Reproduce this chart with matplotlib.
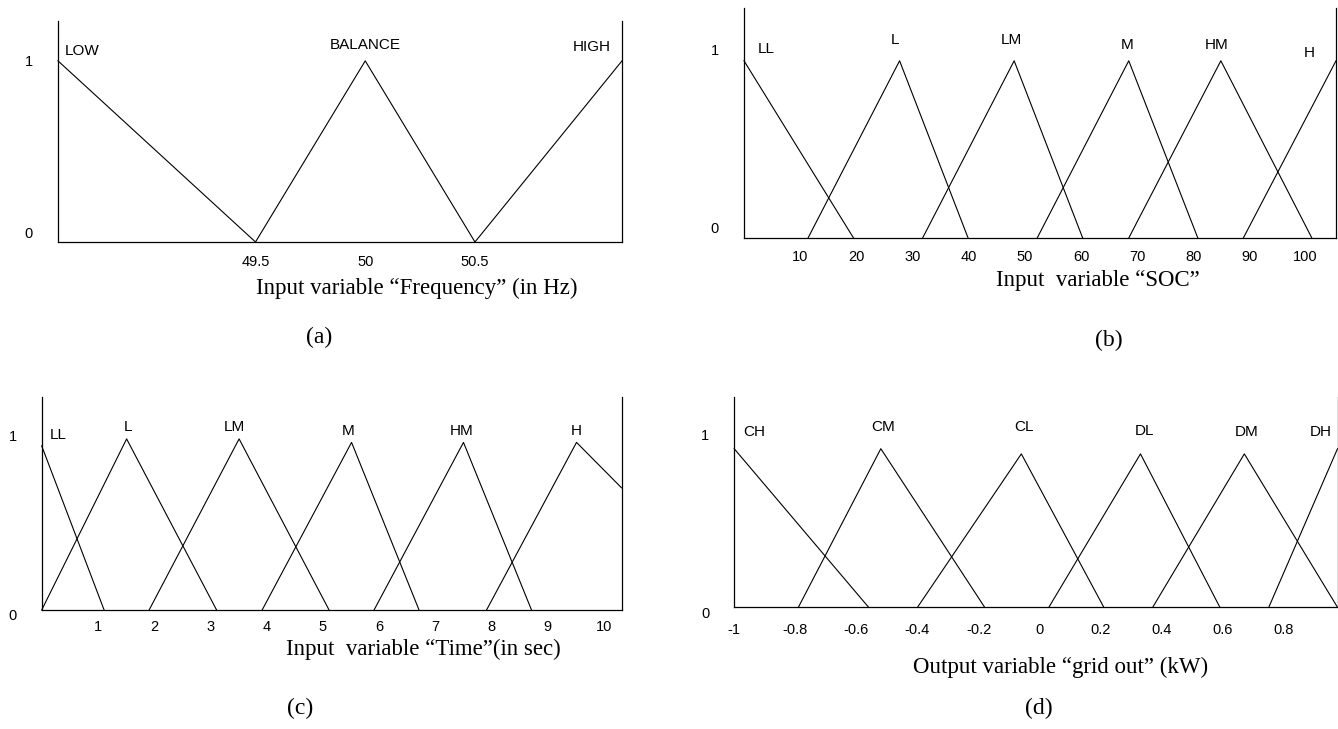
import matplotlib.pyplot as plt
from matplotlib.transforms import ScaledTranslation

plt.rcParams['font.family'] = ['Liberation Sans', 'DejaVu Sans']

# (a) frequency input, Hz
freq_names = ["LOW", "BALANCE", "HIGH"]
freq_x = [[48.6, 49.5], [49.5, 50.0, 50.5], [50.5, 51.17]]
freq_mu = [[1, 0], [0, 1, 0], [0, 1]]
freq_ticks = [49.5, 50, 50.5]
freq_ticklabels = ["49.5", "50", "50.5"]

# (b) state of charge input, %
soc_names = ["LL", "L", "LM", "M", "HM", "H"]
soc_x = [[0, 19.5], [11.4, 27.7, 39.9], [31.8, 48.1, 60.3],
         [52.2, 68.5, 80.8], [68.5, 84.9, 101.1], [88.9, 105.4]]
soc_mu = [[0.94, 0], [0, 0.94, 0], [0, 0.94, 0],
          [0, 0.94, 0], [0, 0.94, 0], [0, 0.94]]
soc_ticks = [10, 20, 30, 40, 50, 60, 70, 80, 90, 100]
soc_ticklabels = [str(t) for t in soc_ticks]

# (c) time input, sec
time_names = ["LL", "L", "LM", "M", "HM", "H"]
time_x = [[0, 1.11], [0, 1.51, 3.11], [1.91, 3.51, 5.11],
          [3.92, 5.51, 6.71], [5.91, 7.50, 8.71], [7.91, 9.51, 10.31]]
time_mu = [[0.94, 0], [0, 0.98, 0], [0, 0.98, 0],
           [0, 0.96, 0], [0, 0.96, 0], [0, 0.96, 0.70]]
time_ticks = [1, 2, 3, 4, 5, 6, 7, 8, 9, 10]
time_ticklabels = [str(t) for t in time_ticks]

# (d) grid output, kW
grid_names = ["CH", "CM", "CL", "DL", "DM", "DH"]
grid_x = [[-1, -0.56], [-0.79, -0.52, -0.18], [-0.40, -0.06, 0.21],
          [0.03, 0.33, 0.59], [0.37, 0.67, 0.975], [0.75, 0.975]]
grid_mu = [[0.92, 0], [0, 0.92, 0], [0, 0.89, 0],
           [0, 0.89, 0], [0, 0.89, 0], [0, 0.92]]
grid_ticks = [-1, -0.8, -0.6, -0.4, -0.2, 0, 0.2, 0.4, 0.6, 0.8]
grid_ticklabels = ["-1", "-0.8", "-0.6", "-0.4", "-0.2", "0", "0.2", "0.4", "0.6", "0.8"]

W, H = 1338, 729


def px_rect(left, right, top, bottom):
    return [left / W, 1 - bottom / H, (right - left) / W, (bottom - top) / H]


panels = [
    dict(names=freq_names, xs=freq_x, mus=freq_mu, ticks=freq_ticks, ticklabels=freq_ticklabels,
         rect=px_rect(58, 622, 21, 242), xlim=(48.6, 51.17),
         name_xy=[(48.71, 1.055), (50.0, 1.09), (51.03, 1.076)],
         xlabel="Input variable \u201cFrequency\u201d (in Hz)", xlabel_xy=(0.636, -0.211),
         letter="(a)", letter_px=(319, 337), xpad=9.2, ydy=(-9.7, 0)),
    dict(names=soc_names, xs=soc_x, mus=soc_mu, ticks=soc_ticks, ticklabels=soc_ticklabels,
         rect=px_rect(744, 1336, 8, 238), xlim=(0, 105.4),
         name_xy=[(4.0, 1.0), (26.8, 1.048), (47.6, 1.048), (68.3, 1.023), (84.1, 1.023), (100.6, 0.979)],
         xlabel="Input  variable \u201cSOC\u201d", xlabel_xy=(0.598, -0.186),
         letter="(b)", letter_px=(1109, 340), xpad=8.5, ydy=(-10, 0)),
    dict(names=time_names, xs=time_x, mus=time_mu, ticks=time_ticks, ticklabels=time_ticklabels,
         rect=px_rect(41.7, 621.5, 397, 610), xlim=(0, 10.31),
         name_xy=[(0.30, 1.002), (1.54, 1.048), (3.42, 1.048), (5.44, 1.025), (7.47, 1.025), (9.51, 1.025)],
         xlabel="Input  variable \u201cTime\u201d(in sec)", xlabel_xy=(0.658, -0.183),
         letter="(c)", letter_px=(300, 708), xpad=7.1, ydy=(5, 0)),
    dict(names=grid_names, xs=grid_x, mus=grid_mu, ticks=grid_ticks, ticklabels=grid_ticklabels,
         rect=px_rect(734.2, 1337.5, 397, 607.3), xlim=(-1, 0.975),
         name_xy=[(-0.933, 1.019), (-0.514, 1.046), (-0.05, 1.046), (0.343, 1.023), (0.679, 1.019), (0.92, 1.019)],
         xlabel="Output variable \u201cgrid out\u201d (kW)", xlabel_xy=(0.541, -0.284),
         letter="(d)", letter_px=(1039, 708), xpad=11, ydy=(5, 0)),
]

fig = plt.figure(figsize=(W / 100, H / 100), dpi=100)

for p in panels:
    ax = fig.add_axes(p["rect"])
    for xs, mus in zip(p["xs"], p["mus"]):
        ax.plot(xs, mus, color="black", lw=0.8, clip_on=False)
    for name, (tx, ty) in zip(p["names"], p["name_xy"]):
        ax.text(tx, ty, name, ha="center", va="center", fontsize=11)

    ax.set_xlim(*p["xlim"])
    ax.set_ylim(0, 1.22)
    ax.spines["top"].set_visible(False)
    for s in ["left", "right", "bottom"]:
        ax.spines[s].set_linewidth(0.9)

    ax.set_xticks(p["ticks"])
    ax.set_xticklabels(p["ticklabels"])
    ax.set_yticks([0, 1])
    ax.set_yticklabels(["0", "1"])
    ax.tick_params(axis="x", length=0, pad=p["xpad"], labelsize=10.5)
    ax.tick_params(axis="y", length=0, pad=18, labelsize=10.5)
    # nudge the y labels a little off their ticks
    for lbl, dy in zip(ax.get_yticklabels(), p["ydy"]):
        lbl.set_transform(lbl.get_transform() + ScaledTranslation(0, -dy / 100, fig.dpi_scale_trans))

    ax.set_xlabel(p["xlabel"], family="Liberation Serif", fontsize=16.5, va="center")
    ax.xaxis.set_label_coords(*p["xlabel_xy"])

    lx, ly = p["letter_px"]
    fig.text(lx / W, 1 - ly / H, p["letter"], ha="center", va="center",
             family="Liberation Serif", fontsize=17)

fig.savefig("out.png", dpi=100)
